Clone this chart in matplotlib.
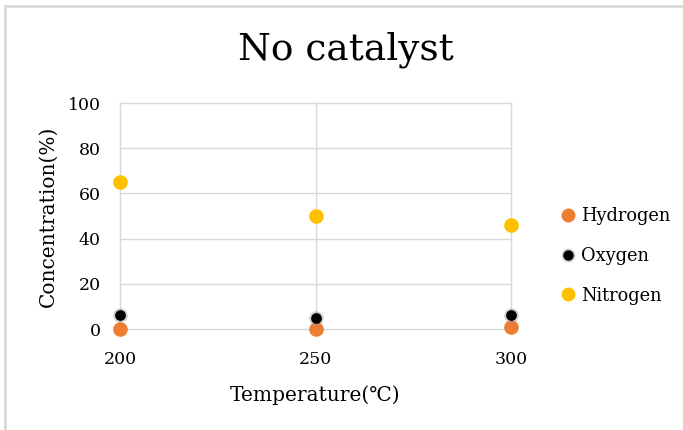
import matplotlib.pyplot as plt
from matplotlib.lines import Line2D

# Data
temperatures = [200, 250, 300]
hydrogen = [0, 0, 0.8]
oxygen = [6.2, 4.8, 6.2]
nitrogen = [65, 50, 46]
y_ticks = [0, 20, 40, 60, 80, 100]

plt.rcParams['font.family'] = ['DejaVu Serif', 'DejaVu Sans', 'Noto Sans CJK JP']

fig = plt.figure(figsize=(6.83, 4.30), dpi=100)
ax = fig.add_axes([120 / 683, 101 / 430, 391 / 683, 226 / 430])

# points for each gas
ax.scatter(temperatures, hydrogen, s=90, color='#ED7D31', zorder=3, clip_on=False)
ax.scatter(temperatures, oxygen, s=110, color='#9A9A9A', alpha=0.45, linewidths=0,
           zorder=3, clip_on=False)
ax.scatter(temperatures, oxygen, s=45, color='black', zorder=4, clip_on=False)
ax.scatter(temperatures, nitrogen, s=90, color='#FFC000', zorder=3, clip_on=False)

# axes
ax.set_xlim(200, 300)
ax.set_ylim(0, 100)
ax.set_xticks(temperatures)
ax.set_yticks(y_ticks)
ax.grid(True, color='#D9D9D9', linewidth=1)
ax.set_axisbelow(True)
for line in ax.get_xgridlines() + ax.get_ygridlines():
    line.set_clip_on(False)
for spine in ax.spines.values():
    spine.set_visible(False)
ax.tick_params(length=0, labelsize=12.5)
ax.tick_params(axis='y', pad=14)
ax.tick_params(axis='x', pad=16)

ax.set_xlabel('Temperature(℃)', fontsize=14.5, labelpad=12)
ax.set_ylabel('Concentration(%)', fontsize=14.5, labelpad=7)
fig.text(346 / 683, 1 - 50 / 430, 'No catalyst', fontsize=27, ha='center', va='center')

# legend
handles = [
    Line2D([], [], marker='o', linestyle='', markersize=9, color='#ED7D31'),
    (Line2D([], [], marker='o', linestyle='', markersize=10, color='#9A9A9A', alpha=0.45,
            markeredgewidth=0),
     Line2D([], [], marker='o', linestyle='', markersize=6.5, color='black')),
    Line2D([], [], marker='o', linestyle='', markersize=9, color='#FFC000'),
]
ax.legend(handles, ['Hydrogen', 'Oxygen', 'Nitrogen'], loc='center left',
          bbox_to_anchor=(1.11, 0.323), frameon=False, fontsize=12.8,
          handlelength=0.8, handletextpad=0.3, labelspacing=1.22, borderaxespad=0)

# chart border
fig.add_artist(Line2D([5 / 683, 5 / 683], [0, 1 - 6 / 430], transform=fig.transFigure,
                      color='#D9D9D9', linewidth=2))
fig.add_artist(Line2D([5 / 683, 1], [1 - 6 / 430, 1 - 6 / 430], transform=fig.transFigure,
                      color='#D9D9D9', linewidth=2))

plt.savefig('out.png', dpi=100)
